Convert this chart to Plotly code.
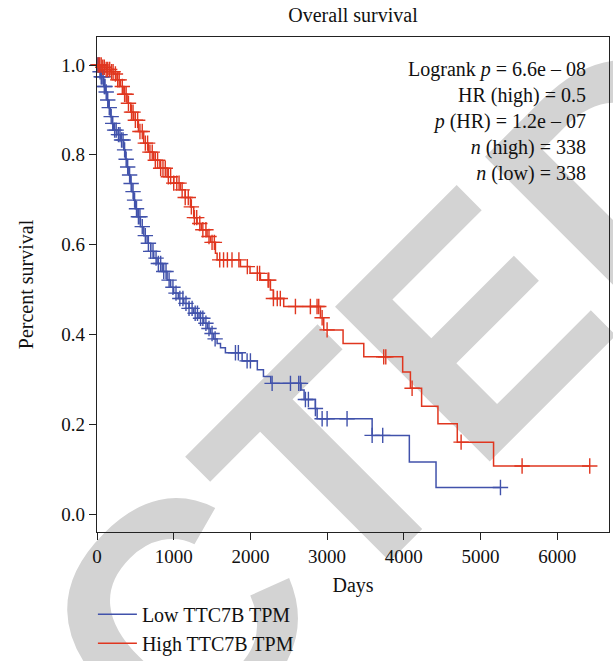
import numpy as np
import plotly.graph_objects as go

# ---------------- data ----------------
# High TTC7B TPM group: step times (days) and survival after each step
high_t = [0, 60, 120, 180, 218, 260, 305, 350, 392, 440, 479, 540, 609, 670, 740, 820,
          914, 1000, 1087, 1150, 1218, 1261, 1305, 1360, 1435, 1480, 1544, 1566, 1870,
          1995, 2130, 2261, 2300, 2434, 2913, 2956, 3208, 3478, 3985, 4086, 4232, 4445,
          4697, 5170]
high_s = [1.0, 0.995, 0.99, 0.985, 0.98, 0.967, 0.952, 0.935, 0.915, 0.895, 0.877, 0.852,
          0.826, 0.806, 0.788, 0.770, 0.751, 0.737, 0.722, 0.705, 0.684, 0.660, 0.647,
          0.633, 0.618, 0.605, 0.581, 0.566, 0.551, 0.536, 0.521, 0.499, 0.480, 0.462,
          0.437, 0.410, 0.380, 0.350, 0.316, 0.280, 0.240, 0.201, 0.160, 0.107]
high_censor = [15, 35, 55, 75, 95, 120, 140, 165, 190, 210, 240, 270, 290, 330, 360, 380,
               410, 450, 470, 500, 530, 560, 590, 630, 660, 690, 720, 760, 790, 830, 860,
               890, 930, 960, 1000, 1040, 1070, 1110, 1150, 1190, 1230, 1270, 1300, 1340,
               1380, 1420, 1460, 1500, 1530, 1600, 1650, 1700, 1760, 1850, 1960, 2090,
               2120, 2230, 2240, 2300, 2350, 2390, 2587, 2782, 2869, 2891, 2935, 3000,
               3738, 3765, 4108, 4747, 5542, 6424]

# Low TTC7B TPM group
low_t = [0, 30, 44, 87, 110, 131, 150, 175, 200, 218, 260, 305, 348, 370, 392, 415, 435,
         455, 479, 500, 523, 566, 610, 653, 700, 740, 783, 850, 914, 960, 1000, 1060,
         1131, 1200, 1261, 1330, 1392, 1440, 1479, 1520, 1566, 1610, 1674, 1892, 2090,
         2170, 2265, 2660, 2700, 2847, 2870, 3587, 4072, 4420]
low_s = [1.0, 0.985, 0.974, 0.952, 0.940, 0.922, 0.905, 0.885, 0.870, 0.855, 0.845, 0.833,
         0.811, 0.790, 0.773, 0.755, 0.736, 0.718, 0.699, 0.680, 0.662, 0.640, 0.620,
         0.603, 0.585, 0.570, 0.558, 0.540, 0.521, 0.505, 0.492, 0.480, 0.469, 0.458,
         0.447, 0.436, 0.425, 0.413, 0.402, 0.390, 0.380, 0.370, 0.359, 0.341, 0.321,
         0.306, 0.291, 0.276, 0.255, 0.235, 0.212, 0.175, 0.116, 0.059]
low_censor = [10, 25, 40, 55, 65, 80, 95, 105, 120, 140, 160, 185, 205, 230, 250, 280, 300,
              320, 340, 360, 380, 400, 425, 445, 470, 490, 515, 540, 560, 590, 630, 670,
              700, 730, 770, 800, 830, 870, 900, 940, 990, 1030, 1080, 1120, 1160, 1200,
              1240, 1280, 1310, 1350, 1380, 1420, 1460, 1500, 1540, 1805, 1843, 1957,
              2000, 2283, 2522, 2630, 2652, 2717, 2756, 2847, 2935, 3000, 3260, 3587,
              3725, 5260]

group_names = ["Low TTC7B TPM", "High TTC7B TPM"]
stats_lines = ["Logrank <i>p</i> = 6.6e \u2013 08", "HR (high) = 0.5",
               "<i>p</i> (HR) = 1.2e \u2013 07", "<i>n</i> (high) = 338",
               "<i>n</i> (low) = 338"]
x_ticks = [0, 1000, 2000, 3000, 4000, 5000, 6000]
y_ticks = [0.0, 0.2, 0.4, 0.6, 0.8, 1.0]

# ---------------- styling ----------------
BLUE = "#4152ab"
RED = "#e0361f"
SERIF = "Liberation Serif, Times New Roman, serif"


def step_value(times, surv, q):
    idx = np.searchsorted(np.asarray(times), np.asarray(q), side="right") - 1
    return np.asarray(surv)[idx]


fig = go.Figure()

for name, t, s, cens, col in [
    (group_names[0], low_t, low_s, low_censor, BLUE),
    (group_names[1], high_t, high_s, high_censor, RED),
]:
    end = max(cens[-1], t[-1])
    fig.add_trace(go.Scatter(
        x=list(t) + [end], y=list(s) + [s[-1]], mode="lines", name=name,
        line=dict(color=col, width=1.5, shape="hv"), showlegend=True,
        cliponaxis=False))
    fig.add_trace(go.Scatter(
        x=cens, y=step_value(t, s, cens), mode="markers", showlegend=False,
        marker=dict(symbol="cross-thin", size=11, line=dict(color=col, width=1.4)),
        cliponaxis=False))

# stats text block
fig.add_annotation(
    xref="paper", yref="paper", x=0.9596, y=0.962, xanchor="right", yanchor="top",
    align="right", showarrow=False, text="<br>".join(stats_lines),
    font=dict(family=SERIF, size=20, color="#111111"))

# retraction watermark (text, drawn beneath the data)
wm_x, wm_y = -0.2004, -0.4568
fig.add_shape(
    type="rect", xref="paper", yref="paper",
    x0=wm_x - 0.001, x1=wm_x + 0.001, y0=wm_y - 0.001, y1=wm_y + 0.001,
    line=dict(width=0), fillcolor="rgba(0,0,0,0)", layer="below",
    label=dict(text="RETRACTED", textangle=-45, textposition="middle center",
               xanchor="center", yanchor="middle",
               font=dict(family="Liberation Sans, Arial, sans-serif", size=318,
                         color="#d3d3d3", weight=700)))

axis_common = dict(
    showline=True, linecolor="#222222", linewidth=1.2, mirror=True,
    ticks="outside", ticklen=7, tickwidth=1.2, tickcolor="#222222",
    showgrid=False, zeroline=False, automargin=False,
    tickfont=dict(family=SERIF, size=19, color="#111111"),
)

fig.update_layout(
    width=613, height=661,
    margin=dict(l=97, r=4, t=37, b=129, autoexpand=False),
    paper_bgcolor="white", plot_bgcolor="white",
    title=dict(text="Overall survival", x=0.5, xref="paper", y=1 - 15 / 661,
               yref="container", xanchor="center", yanchor="middle",
               font=dict(family=SERIF, size=20, color="#111111")),
    xaxis=dict(range=[0, 6675], tickvals=x_ticks, **axis_common,
               title=dict(text="Days", standoff=12,
                          font=dict(family=SERIF, size=20, color="#111111"))),
    yaxis=dict(range=[-0.0401, 1.0624], tickvals=y_ticks, tickformat=".1f", **axis_common,
               title=dict(text="Percent survival", standoff=22,
                          font=dict(family=SERIF, size=20, color="#111111"))),
    legend=dict(x=-0.008, y=-0.127, xanchor="left", yanchor="top",
                bgcolor="rgba(0,0,0,0)", itemwidth=39, tracegroupgap=0,
                font=dict(family=SERIF, size=20, color="#111111")),
    showlegend=True,
)

fig.write_html("out.html")
